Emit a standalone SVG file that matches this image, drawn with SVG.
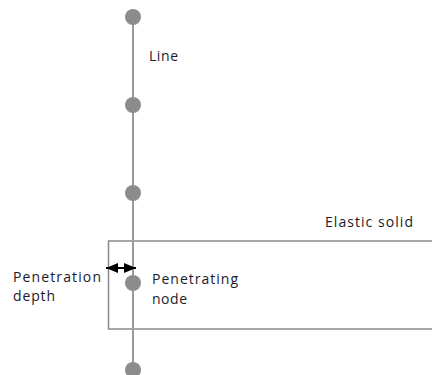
<svg xmlns="http://www.w3.org/2000/svg" width="432" height="375" viewBox="0 0 432 375">
  <style>
    .lbl { font-family: "Open Sans", "Liberation Sans", sans-serif; font-size: 14px; fill: #1a1a2a; }
    .node { fill: #8c8c8c; }
    .wire { stroke: #9a9a9a; stroke-width: 2; fill: none; }
    .solid { stroke: #8a8a8a; stroke-width: 1.5; fill: none; }
  </style>
  <defs>
    <marker id="head" viewBox="0 0 12 10" refX="12" refY="5" markerWidth="12" markerHeight="10" orient="auto-start-reverse" markerUnits="userSpaceOnUse">
      <path d="M0,0 L12,5 L0,10 Z" fill="#000"/>
    </marker>
  </defs>
  <rect width="432" height="375" fill="#fff"/>

  <!-- elastic solid body, open on the right -->
  <g id="solid">
    <path class="solid" d="M433,241 H108.5 V329 H433"/>
    <text class="lbl" x="325" y="227" textLength="88" lengthAdjust="spacing">Elastic solid</text>
  </g>

  <!-- line through the nodes and the depth dimension -->
  <g id="connectors">
    <line class="wire" x1="133" y1="17" x2="133" y2="372"/>
    <line x1="106" y1="268" x2="136" y2="268" stroke="#000" stroke-width="2" marker-start="url(#head)" marker-end="url(#head)"/>
  </g>

  <g id="node1"><circle class="node" cx="133" cy="17" r="8"/></g>
  <g id="node2"><circle class="node" cx="133" cy="105" r="8"/></g>
  <g id="node3"><circle class="node" cx="133" cy="193" r="8"/></g>
  <g id="node4"><circle class="node" cx="133" cy="283" r="8"/></g>
  <g id="node5"><circle class="node" cx="133" cy="370" r="8"/></g>

  <g id="labels">
    <text class="lbl" x="149" y="61" textLength="29" lengthAdjust="spacing">Line</text>
    <text class="lbl" x="13" y="282" textLength="88" lengthAdjust="spacing">Penetration</text>
    <text class="lbl" x="13" y="301" textLength="42" lengthAdjust="spacing">depth</text>
    <text class="lbl" x="152" y="284" textLength="86" lengthAdjust="spacing">Penetrating</text>
    <text class="lbl" x="152" y="304" textLength="35" lengthAdjust="spacing">node</text>
  </g>
</svg>
